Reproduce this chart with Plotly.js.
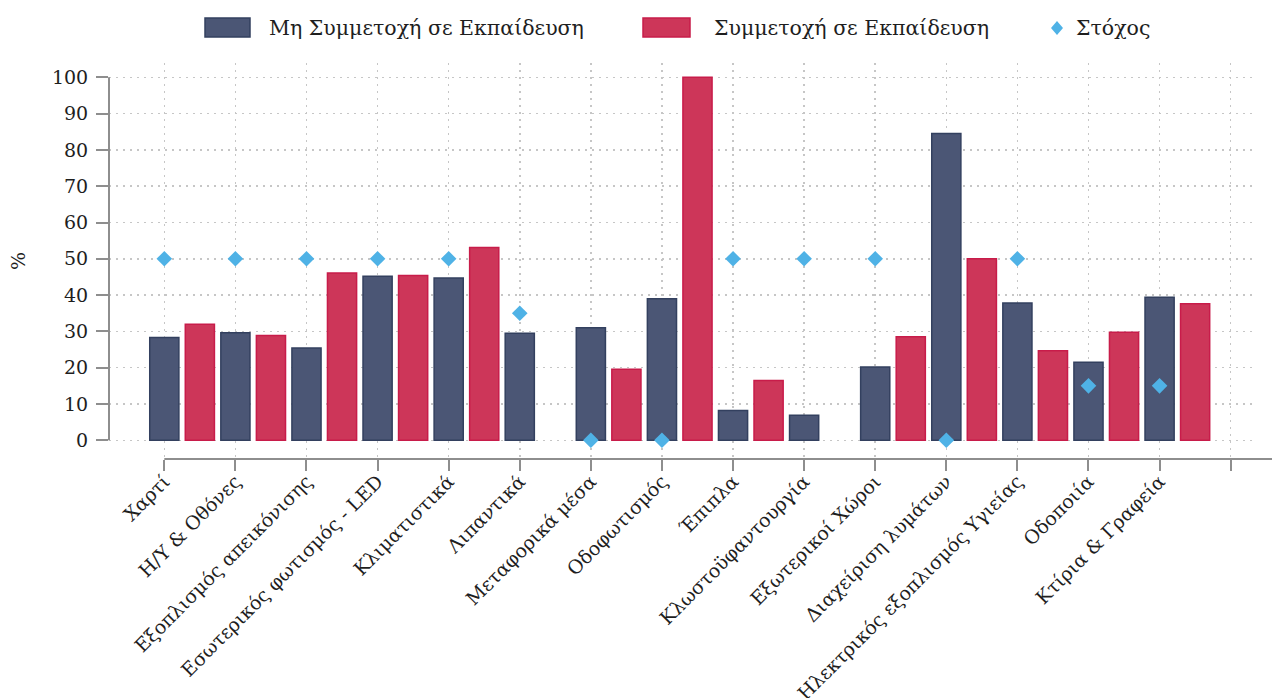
<!DOCTYPE html>
<html><head><meta charset="utf-8">
<script src="https://cdn.plot.ly/plotly-3.0.1.min.js"></script>
<style>html,body{margin:0;padding:0;background:#fff}#chart{width:1272px;height:698px}</style>
</head><body><div id="chart"></div>
<script>
const categories = ['Χαρτί','Η/Υ & Οθόνες','Εξοπλισμός απεικόνισης','Εσωτερικός φωτισμός - LED','Κλιματιστικά','Λιπαντικά','Μεταφορικά μέσα','Οδοφωτισμός','Έπιπλα','Κλωστοϋφαντουργία','Εξωτερικοί Χώροι','Διαχείριση λυμάτων','Ηλεκτρικός εξοπλισμός Υγιείας','Οδοποιία','Κτίρια & Γραφεία'];
const nonParticipation = [28.3, 29.6, 25.4, 45.2, 44.7, 29.5, 31.0, 39.0, 8.2, 6.9, 20.2, 84.5, 37.8, 21.5, 39.4];
const participation = [32.0, 28.9, 46.1, 45.4, 53.1, null, 19.6, 100, 16.5, null, 28.5, 50.0, 24.7, 29.8, 37.6];
const target = [50, 50, 50, 50, 50, 35, 0, 0, 50, 50, 50, 0, 50, 15, 15];
const seriesNames = ['Μη Συμμετοχή σε Εκπαίδευση', 'Συμμετοχή σε Εκπαίδευση', 'Στόχος'];
const yTickValues = [0, 10, 20, 30, 40, 50, 60, 70, 80, 90, 100];
const yTitle = '%';

const NAVY = '#4b5675', NAVY_LINE = '#33405f';
const RED = '#cd3659', RED_LINE = '#c81c4a';
const BLUE = '#4fb2e6';
const AXIS = '#8e8e8e', GRID = '#c6c6c6', TXT = '#1e1e1e';
const FONT = 'DejaVu Serif, Liberation Serif, serif';

const W = 1272, H = 698, ML = 109, MR = 20, MT = 63, MB = 239;
const PW = W - ML - MR, PH = H - MT - MB;
const xRange = [-0.778, 15.30];
const yRange = [-5.15, 103.94];
const idx = categories.map((_, i) => i);
const tickVals = categories.concat(['']).map((_, i) => i);
const tickText = categories.concat(['']);

const px = x => (x - ML) / PW;
const py = y => (H - MB - y) / PH;
const xFrac = v => (v - xRange[0]) / (xRange[1] - xRange[0]);
const yFrac = v => (v - yRange[0]) / (yRange[1] - yRange[0]);

const bw = 0.41;
const traces = [
  {type: 'bar', name: seriesNames[0], x: idx, y: nonParticipation, width: bw, offset: -bw / 2,
   marker: {color: NAVY, line: {color: NAVY_LINE, width: 1.5}}, showlegend: false},
  {type: 'bar', name: seriesNames[1], x: idx, y: participation, width: bw, offset: 0.5 - bw / 2,
   marker: {color: RED, line: {color: RED_LINE, width: 1.5}}, showlegend: false},
  {type: 'scatter', mode: 'markers', name: seriesNames[2], x: idx, y: target, cliponaxis: false,
   marker: {symbol: 'diamond', size: 12, color: BLUE}, showlegend: false}
];

const shapes = [
  {type: 'line', xref: 'paper', yref: 'paper', x0: 0, x1: 0, y0: yFrac(yTickValues[0]), y1: yFrac(yTickValues[yTickValues.length - 1]), line: {color: AXIS, width: 2}},
  {type: 'line', xref: 'paper', yref: 'paper', x0: xFrac(0), x1: px(W), y0: 0, y1: 0, line: {color: AXIS, width: 2}},
  {type: 'rect', xref: 'paper', yref: 'paper', x0: px(205), x1: px(250), y0: py(37), y1: py(18), fillcolor: NAVY, line: {color: NAVY_LINE, width: 1.5}},
  {type: 'rect', xref: 'paper', yref: 'paper', x0: px(643), x1: px(690), y0: py(37), y1: py(18), fillcolor: RED, line: {color: RED_LINE, width: 1.5}},
  {type: 'path', xref: 'paper', yref: 'paper',
   path: `M ${px(1057)} ${py(21)} L ${px(1063)} ${py(28)} L ${px(1057)} ${py(35)} L ${px(1051)} ${py(28)} Z`,
   fillcolor: BLUE, line: {width: 0}}
];

const legendText = (t, x) => ({text: t, xref: 'paper', yref: 'paper', x: px(x), y: py(28), xanchor: 'left', yanchor: 'middle', showarrow: false, font: {family: FONT, size: 20.5, color: TXT}});
const annotations = [
  legendText(seriesNames[0], 267),
  legendText(seriesNames[1], 712),
  legendText(seriesNames[2], 1074)
];

const layout = {
  width: W, height: H,
  margin: {l: ML, r: MR, t: MT, b: MB, pad: 0},
  paper_bgcolor: '#ffffff', plot_bgcolor: '#ffffff',
  barmode: 'overlay',
  showlegend: false,
  font: {family: FONT, color: TXT},
  xaxis: {
    range: xRange, tickmode: 'array', tickvals: tickVals, ticktext: tickText, tickangle: -45,
    ticks: 'outside', ticklen: 11, tickwidth: 2, tickcolor: AXIS,
    showline: false, zeroline: false,
    showgrid: true, gridcolor: GRID, gridwidth: 1.5, griddash: '2px,5px',
    tickfont: {family: FONT, size: 19, color: TXT}, ticklabelstandoff: -8,
    fixedrange: true, automargin: false
  },
  yaxis: {
    range: yRange, tickmode: 'array', tickvals: yTickValues,
    ticks: 'outside', ticklen: 12, tickwidth: 2, tickcolor: AXIS,
    showline: false, zeroline: false,
    showgrid: true, gridcolor: GRID, gridwidth: 1.5, griddash: '2px,5px',
    tickfont: {family: FONT, size: 19, color: TXT}, ticklabelstandoff: 4,
    title: {text: yTitle, font: {family: FONT, size: 19, color: TXT}, standoff: 21},
    fixedrange: true, automargin: false
  },
  shapes: shapes,
  annotations: annotations
};

Plotly.newPlot('chart', traces, layout, {displayModeBar: false, staticPlot: true});
</script>
</body></html>
